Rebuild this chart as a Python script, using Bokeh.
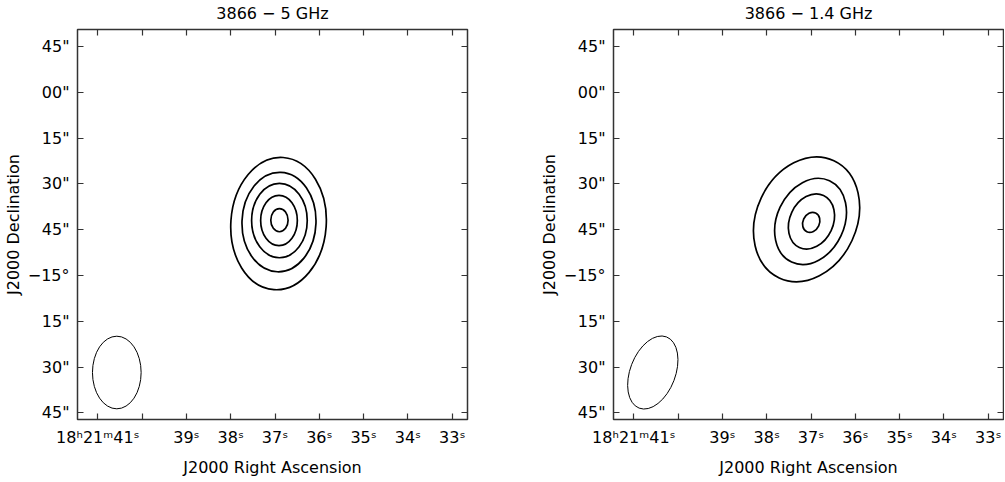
import numpy as np
from bokeh.plotting import figure
from bokeh.layouts import row
from bokeh.models import LinearAxis, FixedTicker, Range1d
from bokeh.embed import file_html
from bokeh.resources import INLINE

titles = ["3866 − 5 GHz", "3866 − 1.4 GHz"]

# RA axis: seconds of 18h21m
ra_ticks = [41, 40, 39, 38, 37, 36, 35, 34, 33]
ra_labels = ["18ʰ21ᵐ41ˢ", "", "39ˢ", "38ˢ", "37ˢ", "36ˢ", "35ˢ", "34ˢ", "33ˢ"]
# Dec axis: arcsec offset from -15°00'00"
dec_ticks = [-45, -30, -15, 0, 15, 30, 45, 60, 75]
dec_labels = ['45"', '30"', '15"', '−15°', '45"', '30"', '15"', '00"', '45"']

# 5 GHz contours (RA s, Dec offset ", semi-major ", semi-minor ", tilt deg)
c5_ra = [36.92, 36.91, 36.90, 36.91, 36.90]
c5_dec = [17.0, 17.5, 18.0, 18.0, 18.1]
c5_major = [21.7, 16.3, 12.2, 8.25, 3.77]
c5_minor = [15.6, 12.1, 9.1, 6.0, 2.83]
c5_tilt = [-4, -2, 0, 0, 0]

# 1.4 GHz contours
c14_ra = [37.10, 37.01, 36.99, 36.995]
c14_dec = [18.4, 17.7, 17.7, 17.4]
c14_major = [21.2, 14.7, 9.4, 3.4]
c14_minor = [16.4, 11.0, 7.1, 2.7]
c14_tilt = [-25, -25, -25, -25]

# restoring beams
beam_ra = [40.571, 40.571]
beam_dec = [-31.8, -31.8]
beam_major = [11.9, 12.5]
beam_minor = [7.96, 7.4]
beam_tilt = [0, -21]

ARCSEC_PER_S = 15 * np.cos(np.radians(15.0))
FONT = "DejaVu Sans"
FS = "16px"


def make_panel(title, ra, dec, major, minor, tilt, bi, bl, br):
    p = figure(frame_width=390, frame_height=390,
               x_range=Range1d(41.458, 32.655), y_range=Range1d(-47.2, 80.6),
               x_axis_type=None, y_axis_type=None,
               toolbar_location=None, output_backend="svg",
               min_border_left=bl, min_border_right=br,
               min_border_top=20, min_border_bottom=56)
    p.outline_line_color = "#333333"
    p.outline_line_width = 1.5

    def style(ax, labels):
        ax.major_tick_in = 6
        ax.major_tick_out = 0
        ax.minor_tick_line_color = None
        ax.axis_line_color = None
        ax.major_tick_line_color = "#333333"
        ax.major_tick_line_width = 1.2
        ax.major_label_text_font = FONT
        ax.axis_label_text_font = FONT
        ax.axis_label_text_font_style = "normal"
        ax.axis_label_text_font_size = FS
        ax.major_label_text_color = "black"
        ax.axis_label_text_color = "black"
        if labels:
            ax.major_label_text_font_size = FS
        else:
            ax.major_label_text_font_size = "0px"
            ax.major_label_standoff = 0

    bottom = LinearAxis(ticker=FixedTicker(ticks=ra_ticks),
                        major_label_overrides=dict(zip(ra_ticks, ra_labels)),
                        axis_label="J2000 Right Ascension")
    style(bottom, True)
    bottom.major_label_standoff = 8
    bottom.axis_label_standoff = 8
    top = LinearAxis(ticker=FixedTicker(ticks=ra_ticks),
                     major_label_overrides={t: "" for t in ra_ticks},
                     axis_label=title)
    style(top, False)
    top.axis_label_standoff = 7
    left = LinearAxis(ticker=FixedTicker(ticks=dec_ticks),
                      major_label_overrides=dict(zip(dec_ticks, dec_labels)),
                      axis_label="J2000 Declination")
    style(left, True)
    left.major_label_standoff = 8
    left.axis_label_standoff = 2
    right = LinearAxis(ticker=FixedTicker(ticks=dec_ticks),
                       major_label_overrides={t: "" for t in dec_ticks})
    style(right, False)
    p.add_layout(bottom, "below")
    p.add_layout(left, "left")
    p.add_layout(top, "above")
    p.add_layout(right, "right")

    p.ellipse(x=ra, y=dec,
              width=[2 * m / ARCSEC_PER_S for m in minor],
              height=[2 * m for m in major],
              angle=tilt, angle_units="deg",
              fill_color=None, line_color="black", line_width=1.7)
    p.ellipse(x=[beam_ra[bi]], y=[beam_dec[bi]],
              width=[2 * beam_minor[bi] / ARCSEC_PER_S],
              height=[2 * beam_major[bi]],
              angle=[beam_tilt[bi]], angle_units="deg",
              fill_color=None, line_color="black", line_width=1)
    return p


p1 = make_panel(titles[0], c5_ra, c5_dec, c5_major, c5_minor, c5_tilt, 0, 71, 69)
p2 = make_panel(titles[1], c14_ra, c14_dec, c14_major, c14_minor, c14_tilt, 1, 71, 1)
layout = row(p1, p2)

open("out.html", "w").write(file_html(layout, INLINE))
